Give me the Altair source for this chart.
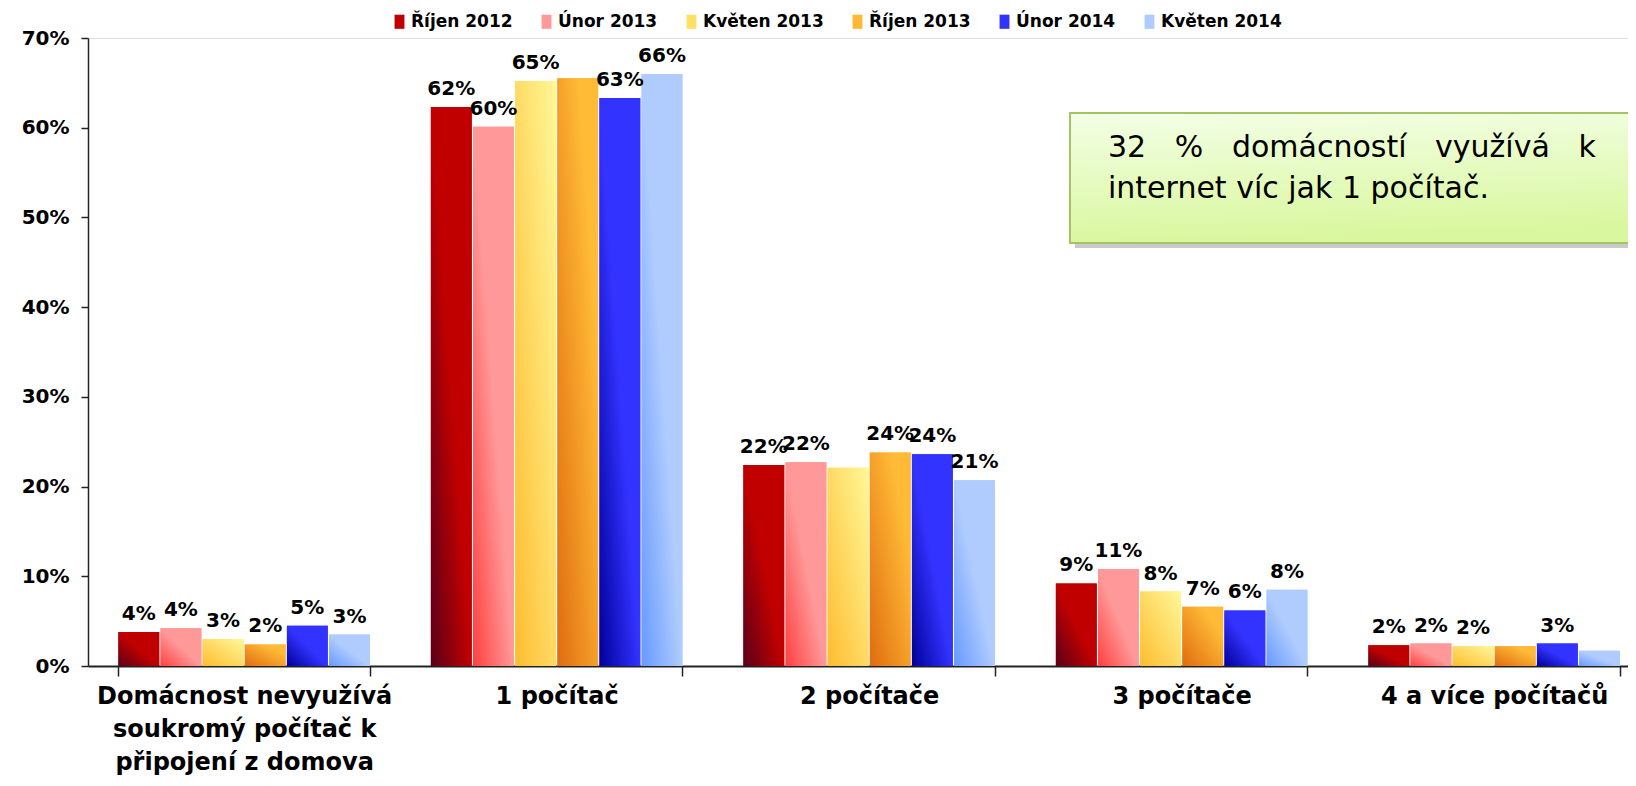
import altair as alt
import pandas as pd

# ---- data ----
categories = [
    "Domácnost nevyužívá|soukromý počítač k|připojení z domova",
    "1 počítač",
    "2 počítače",
    "3 počítače",
    "4 a více počítačů",
]
series = ["Říjen 2012", "Únor 2013", "Květen 2013", "Říjen 2013", "Únor 2014", "Květen 2014"]

rijen_2012 = [3.8, 62.3, 22.4, 9.2, 2.3]
unor_2013 = [4.2, 60.1, 22.7, 10.8, 2.5]
kveten_2013 = [3.0, 65.2, 22.1, 8.3, 2.2]
rijen_2013 = [2.4, 65.5, 23.8, 6.6, 2.2]
unor_2014 = [4.5, 63.3, 23.6, 6.2, 2.5]
kveten_2014 = [3.5, 66.0, 20.7, 8.5, 1.7]

lbl_rijen_2012 = ["4%", "62%", "22%", "9%", "2%"]
lbl_unor_2013 = ["4%", "60%", "22%", "11%", "2%"]
lbl_kveten_2013 = ["3%", "65%", "", "8%", "2%"]
lbl_rijen_2013 = ["2%", "", "24%", "7%", ""]
lbl_unor_2014 = ["5%", "63%", "24%", "6%", "3%"]
lbl_kveten_2014 = ["3%", "66%", "21%", "8%", ""]

y_ticks = [0, 10, 20, 30, 40, 50, 60, 70]

note_line1 = "32\u00a0\u00a0\u00a0%\u00a0\u00a0\u00a0domácností\u00a0\u00a0\u00a0využívá\u00a0\u00a0\u00a0k"
note_line2 = "internet víc jak 1 počítač."

# ---- styling ----
solid_colors = ["#C00000", "#FF9999", "#FFE066", "#FFB833", "#3333FF", "#B0CCFF"]
grad_stops = [
    [("#5A0018", 0.0), ("#C00000", 0.5), ("#C00000", 1.0)],
    [("#FF4040", 0.0), ("#FF9999", 0.5), ("#FF9999", 1.0)],
    [("#FFBC30", 0.0), ("#FFF898", 1.0)],
    [("#E06C10", 0.0), ("#FFBA36", 0.75), ("#FFBA36", 1.0)],
    [("#00009A", 0.0), ("#3333FF", 0.5), ("#3333FF", 1.0)],
    [("#6699FF", 0.0), ("#B0CCFF", 0.5), ("#B0CCFF", 1.0)],
]

values = [rijen_2012, unor_2013, kveten_2013, rijen_2013, unor_2014, kveten_2014]
labels = [lbl_rijen_2012, lbl_unor_2013, lbl_kveten_2013, lbl_rijen_2013, lbl_unor_2014, lbl_kveten_2014]

rows = []
for s, vals, lbls in zip(series, values, labels):
    for c, v, l in zip(categories, vals, lbls):
        rows.append({"cat": c, "series": s, "value": v, "label": l})
df = pd.DataFrame(rows)

FONT = "DejaVu Sans"

x_enc = alt.X(
    "cat:N",
    sort=categories,
    scale=alt.Scale(domain=categories, paddingInner=0.195, paddingOuter=0.0615, align=0.79),
    axis=alt.Axis(
        title=None,
        labelAngle=0,
        labelExpr="split(datum.label, '|')",
        labelFont=FONT,
        labelFontSize=24,
        labelFontWeight="bold",
        labelColor="black",
        labelLineHeight=33,
        labelBaseline="top",
        labelPadding=8,
        tickBand="extent",
        tickSize=10,
        tickColor="#222222",
        tickWidth=1.5,
        domainColor="#222222",
        domainWidth=2,
        labelLimit=400,
    ),
)
xoff_enc = alt.XOffset("series:N", sort=series,
                       scale=alt.Scale(domain=series, paddingInner=0.03))
y_enc = alt.Y(
    "value:Q",
    scale=alt.Scale(domain=[0, 70]),
    axis=alt.Axis(
        title=None,
        values=y_ticks,
        labelExpr="datum.value + '%'",
        labelFont=FONT,
        labelFontSize=20,
        labelFontWeight="bold",
        labelColor="black",
        labelPadding=12,
        tickSize=7,
        tickColor="#222222",
        tickWidth=1.5,
        domainColor="#222222",
        domainWidth=1.5,
        grid=False,
    ),
)

base = alt.Chart(df)

bars = base.mark_bar().encode(
    x=x_enc,
    xOffset=xoff_enc,
    y=y_enc,
    color=alt.Color(
        "series:N",
        sort=series,
        scale=alt.Scale(domain=series, range=solid_colors),
        legend=alt.Legend(
            title=None,
            orient="none",
            direction="horizontal",
            legendX=303,
            legendY=-25,
            columns=6,
            symbolType="M-0.7,-1H0.7V1H-0.7Z",
            symbolSize=200,
            symbolStrokeWidth=0,
            labelFont=FONT,
            labelFontSize=17,
            labelFontWeight="bold",
            labelColor="black",
            labelOffset=3,
            columnPadding=25,
            padding=0,
        ),
    ),
)

grad_layers = []
for s, stops in zip(series, grad_stops):
    g = alt.LinearGradient(
        gradient="linear",
        stops=[alt.GradientStop(color=c, offset=o) for c, o in stops],
        x1=0, y1=1, x2=1, y2=0,
    )
    grad_layers.append(
        base.transform_filter(alt.datum.series == s)
        .mark_bar(fill=g)
        .encode(x=x_enc, xOffset=xoff_enc, y=y_enc)
    )

texts = base.mark_text(
    font=FONT, fontSize=20, fontWeight="bold", color="black",
    baseline="bottom", dy=-8,
).encode(x=x_enc, xOffset=xoff_enc, y=y_enc, text="label:N")

# ---- annotation box ----
one = alt.Chart(pd.DataFrame({"k": [0]}))
shadow = one.mark_rect(fill="#8a8a8a", opacity=0.45).encode(
    x=alt.value(987), x2=alt.value(1560), y=alt.value(80), y2=alt.value(210)
)
box_grad = alt.LinearGradient(
    gradient="linear",
    stops=[alt.GradientStop(color="#F3FFE6", offset=0.0),
           alt.GradientStop(color="#D9F79E", offset=1.0)],
    x1=0, y1=0, x2=0.15, y2=1,
)
box = one.mark_rect(fill=box_grad, stroke="#A3C463", strokeWidth=2).encode(
    x=alt.value(982), x2=alt.value(1560), y=alt.value(75), y2=alt.value(205)
)
note1 = one.mark_text(font=FONT, fontSize=30, color="black", align="left",
                      baseline="alphabetic").encode(
    x=alt.value(1020), y=alt.value(119), text=alt.value(note_line1))
note2 = one.mark_text(font=FONT, fontSize=30, color="black", align="left",
                      baseline="alphabetic").encode(
    x=alt.value(1020), y=alt.value(160), text=alt.value(note_line2))

chart = alt.layer(bars, *grad_layers, texts, shadow, box, note1, note2).properties(
    width=1540,
    height=628,
    autosize=alt.AutoSizeParams(type="none"),
    padding={"left": 80, "top": 30, "right": 0, "bottom": 112},
).configure_view(stroke=None).configure(background="white")

chart.save("out.html", embed_options={"renderer": "svg", "actions": False})
